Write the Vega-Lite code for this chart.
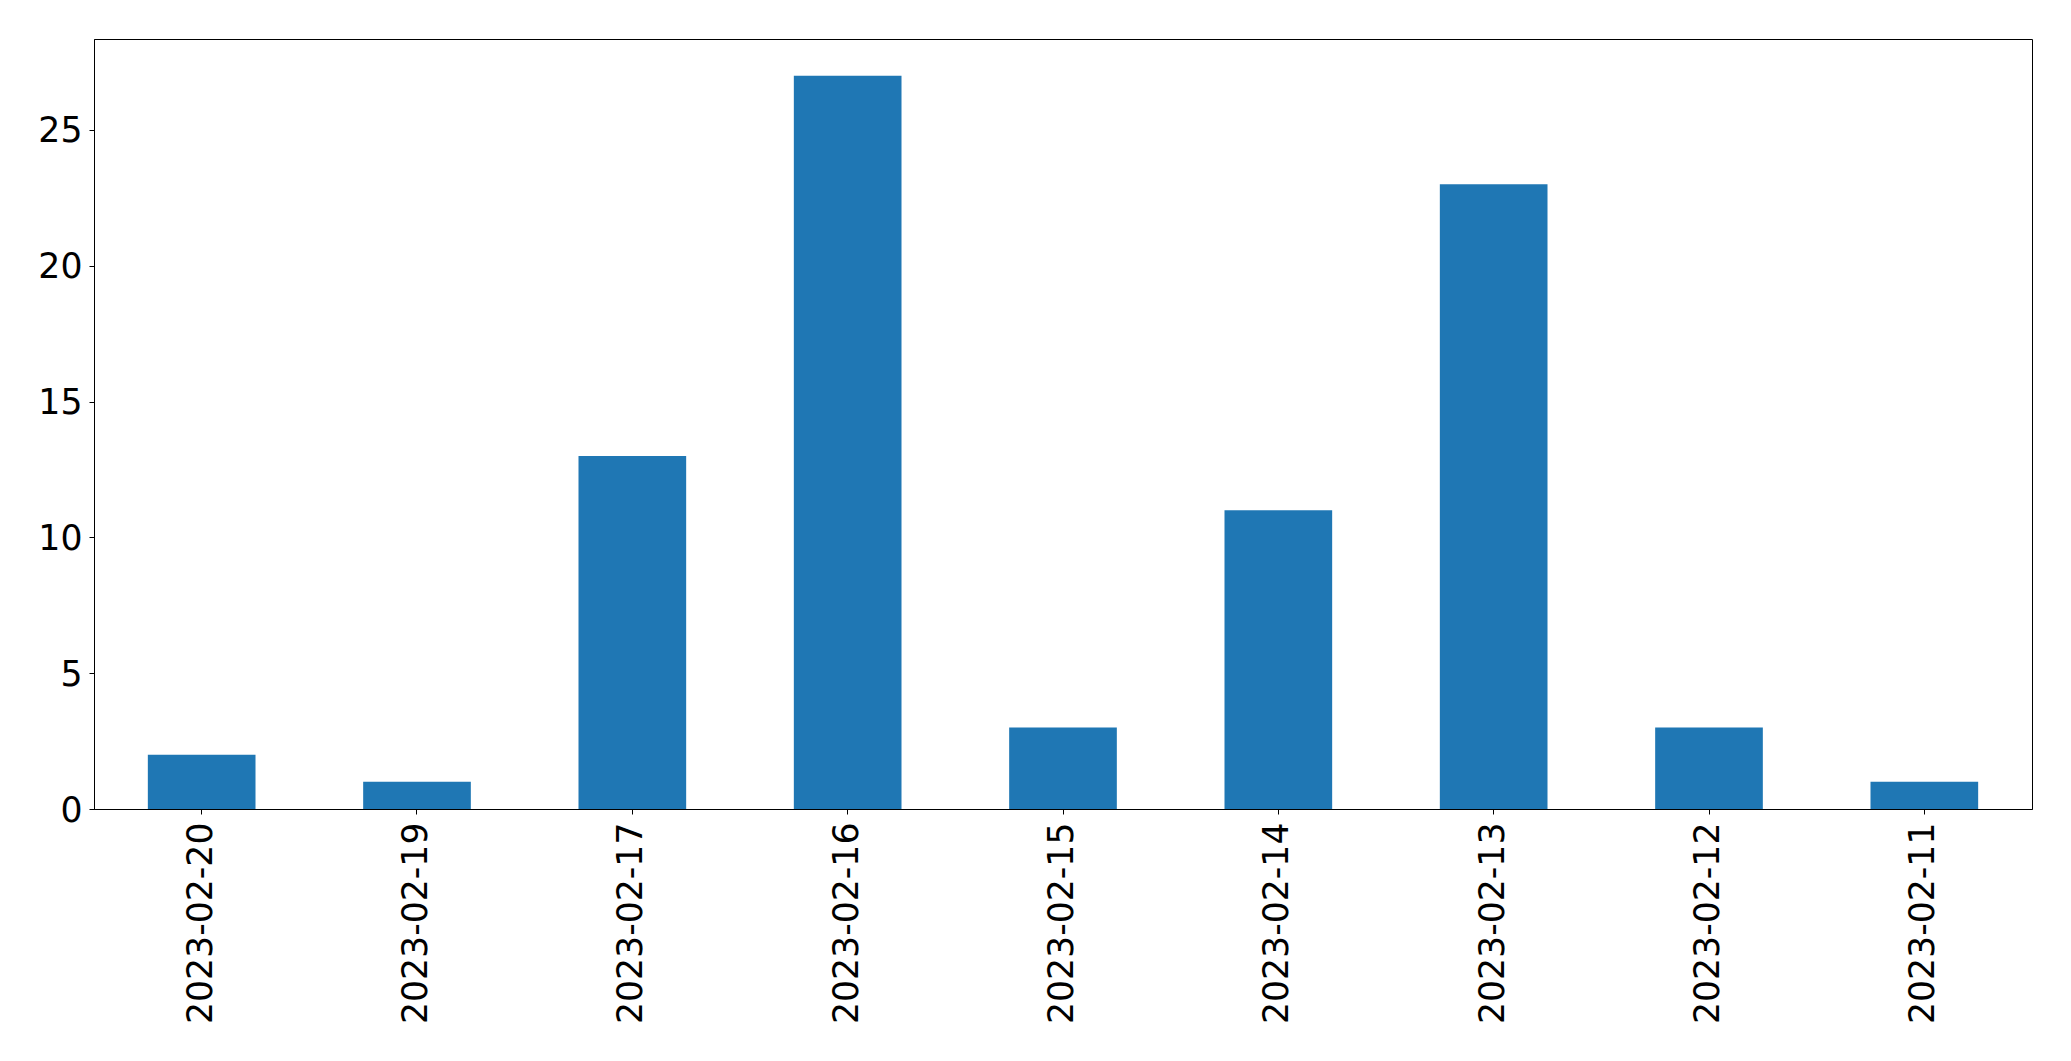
{
  "$schema": "https://vega.github.io/schema/vega-lite/v6.json",
  "autosize": "none",
  "width": 1938,
  "height": 770,
  "padding": {"left": 94, "top": 39, "right": 39, "bottom": 252},
  "background": "white",
  "data": {"values": [
    {"date": "2023-02-20", "count": 2},
    {"date": "2023-02-19", "count": 1},
    {"date": "2023-02-17", "count": 13},
    {"date": "2023-02-16", "count": 27},
    {"date": "2023-02-15", "count": 3},
    {"date": "2023-02-14", "count": 11},
    {"date": "2023-02-13", "count": 23},
    {"date": "2023-02-12", "count": 3},
    {"date": "2023-02-11", "count": 1}
  ]},
  "mark": {"type": "bar", "color": "#1f77b4"},
  "encoding": {
    "x": {
      "field": "date", "type": "nominal", "sort": null,
      "scale": {"paddingInner": 0.5, "paddingOuter": 0.25},
      "axis": {"title": null, "labelAngle": 270, "labelAlign": "right", "labelBaseline": "middle",
               "labelFont": "DejaVu Sans", "labelFontSize": 34.7, "labelColor": "black", "labelLimit": 0,
               "labelPadding": 8, "tickSize": 5, "tickColor": "black", "tickWidth": 1,
               "domainColor": "black", "domainWidth": 1}
    },
    "y": {
      "field": "count", "type": "quantitative",
      "scale": {"domain": [0, 28.35], "nice": false, "zero": true},
      "axis": {"title": null, "values": [0, 5, 10, 15, 20, 25], "grid": false,
               "labelFont": "DejaVu Sans", "labelFontSize": 34.7, "labelColor": "black",
               "labelPadding": 7, "labelOffset": 2, "tickSize": 5, "tickColor": "black", "tickWidth": 1,
               "domainColor": "black", "domainWidth": 1}
    }
  },
  "config": {"view": {"stroke": "black", "strokeWidth": 1}}
}
